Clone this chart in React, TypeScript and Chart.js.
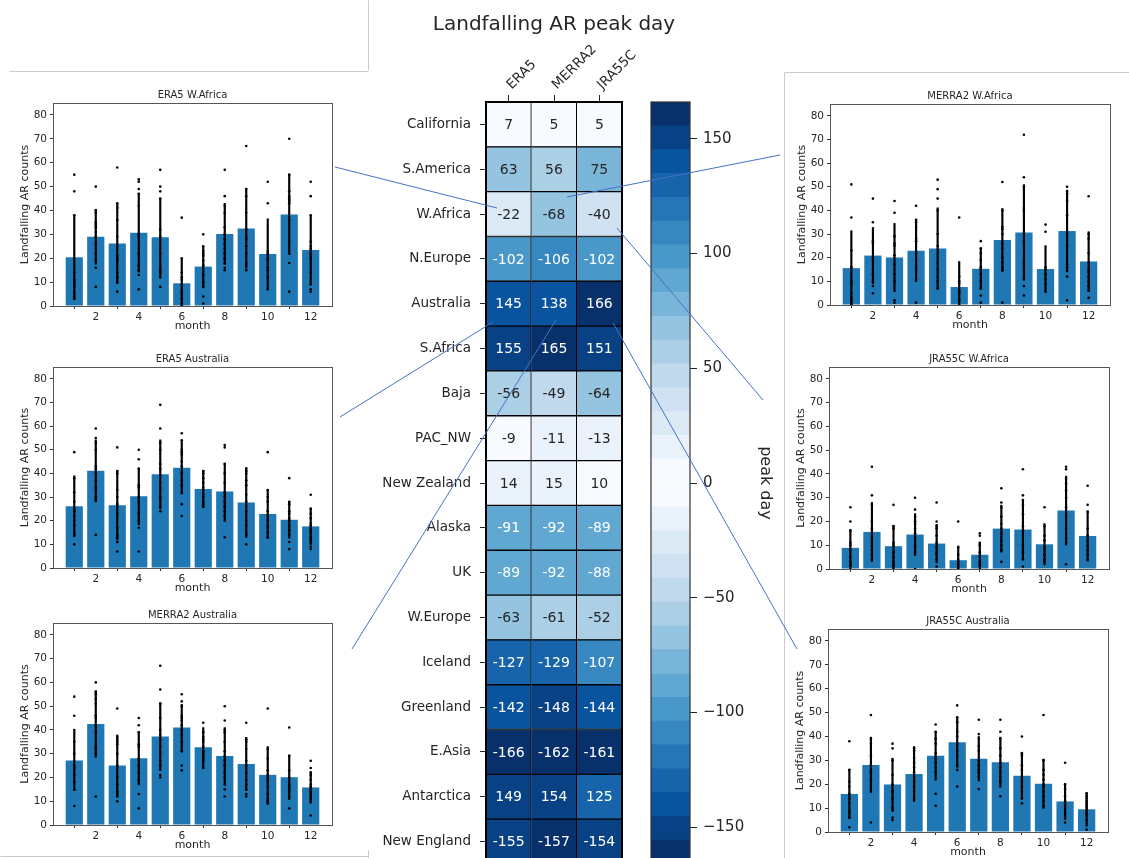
import React, { useEffect, useRef } from 'react';
import { Chart, registerables } from 'chart.js';

Chart.register(...registerables);

const FONT_FAMILY = "'DejaVu Sans', 'Liberation Sans', sans-serif";
const INK = '#262626';

// ---------- peak-day heatmap ----------
const regions = [
  'California', 'S.America', 'W.Africa', 'N.Europe', 'Australia', 'S.Africa', 'Baja', 'PAC_NW',
  'New Zealand', 'Alaska', 'UK', 'W.Europe', 'Iceland', 'Greenland', 'E.Asia', 'Antarctica', 'New England',
];
const products = ['ERA5', 'MERRA2', 'JRA55C'];
const peakDayERA5 = [7, 63, -22, -102, 145, 155, -56, -9, 14, -91, -89, -63, -127, -142, -166, 149, -155];
const peakDayMERRA2 = [5, 56, -68, -106, 138, 165, -49, -11, 15, -92, -92, -61, -129, -148, -162, 154, -157];
const peakDayJRA55C = [5, 75, -40, -102, 166, 151, -64, -13, 10, -89, -88, -52, -107, -144, -161, 125, -154];
const colorbarTicks = [-150, -100, -50, 0, 50, 100, 150];
const PEAK_LIMIT = 166;
const HALF_LEVELS = 16;

// ---------- monthly landfalling AR counts ----------
const months = [1, 2, 3, 4, 5, 6, 7, 8, 9, 10, 11, 12];
const monthTicks = [2, 4, 6, 8, 10, 12];
const countTicks = [0, 10, 20, 30, 40, 50, 60, 70, 80];

const era5WAfricaMean = [20.4, 29, 26.2, 30.7, 28.8, 9.5, 16.5, 30.2, 32.5, 21.8, 38.3, 23.5];
const era5WAfricaStd = [17.7, 11.5, 16.8, 16.5, 16.3, 10.3, 8.5, 12.8, 16.7, 14.7, 16.7, 14.5];
const era5WAfricaYears = [
  [55, 48, 38, 14, 11, 10, 9, 8, 6, 5, 4, 3],
  [50, 40, 39, 35, 34, 33, 31, 29, 26, 22, 19, 16, 8],
  [58, 43, 41, 36, 29, 21, 20, 19, 14, 12, 10, 6],
  [53, 52, 49, 47, 42, 30, 29, 22, 17, 15, 13, 7],
  [57, 50, 48, 45, 32, 29, 22, 16, 15, 14, 12, 8],
  [37, 20, 14, 12, 11, 9, 6, 5, 3, 1, 0],
  [30, 25, 23, 22, 21, 19, 17, 13, 10, 8, 4, 1],
  [57, 46, 42, 39, 33, 30, 28, 26, 24, 22, 20, 18, 16, 15],
  [67, 49, 46, 39, 32, 29, 28, 25, 22, 18, 17, 15],
  [52, 43, 23, 22, 20, 19, 16, 15, 12, 7],
  [70, 55, 48, 46, 45, 44, 43, 36, 27, 22, 18, 6],
  [52, 46, 38, 27, 25, 24, 22, 21, 20, 14, 9, 7, 6],
];

const era5AustraliaMean = [26.1, 41.1, 26.5, 30.3, 39.6, 42.4, 33.4, 32.3, 27.7, 22.8, 20.4, 17.6];
const era5AustraliaStd = [12.9, 13.1, 14.6, 12, 14.6, 11.1, 7.9, 12.1, 14.8, 10.3, 7.8, 7.8];
const era5AustraliaYears = [
  [49, 38, 32, 28, 25, 24, 22, 20, 18, 15, 14, 10],
  [59, 55, 53, 50, 43, 42, 40, 37, 34, 33, 30, 29, 14],
  [51, 41, 40, 33, 30, 27, 23, 17, 14, 13, 11, 7],
  [50, 46, 42, 35, 34, 30, 28, 23, 20, 17, 7],
  [69, 59, 53, 50, 44, 42, 39, 36, 33, 30, 29, 26, 24],
  [57, 54, 50, 49, 48, 45, 43, 40, 37, 35, 32, 27, 22],
  [41, 40, 38, 36, 34, 33, 31, 30, 28, 27, 26],
  [52, 51, 44, 40, 36, 32, 30, 28, 26, 24, 22, 20, 13],
  [42, 41, 40, 37, 35, 31, 28, 24, 20, 18, 15, 14, 10],
  [49, 33, 30, 28, 24, 22, 20, 18, 17, 15, 13],
  [38, 28, 27, 24, 23, 21, 20, 18, 16, 14, 11, 8],
  [31, 25, 23, 21, 19, 18, 17, 16, 15, 13, 12, 11, 9, 8],
];

const merra2AustraliaMean = [27.1, 42.5, 25, 28.1, 37.2, 41, 32.7, 29, 25.7, 21.1, 20.1, 15.8];
const merra2AustraliaStd = [12.6, 14, 12.9, 11.2, 14.3, 9.8, 8.3, 12, 11.2, 11.9, 9.4, 6.7];
const merra2AustraliaYears = [
  [54, 46, 40, 35, 30, 25, 24, 21, 18, 15, 8],
  [60, 56, 55, 53, 51, 46, 45, 42, 39, 33, 32, 30, 12],
  [49, 37, 36, 35, 34, 30, 25, 20, 17, 14, 13, 12, 10],
  [45, 42, 39, 34, 33, 28, 25, 22, 19, 13, 7],
  [67, 57, 51, 45, 40, 38, 36, 33, 30, 27, 25, 21, 20],
  [55, 52, 50, 46, 45, 44, 42, 40, 38, 35, 31, 25, 23],
  [43, 39, 37, 36, 35, 33, 31, 30, 29, 28, 27, 24],
  [50, 44, 40, 39, 35, 31, 29, 27, 25, 22, 20, 17, 15, 12],
  [43, 36, 35, 32, 27, 25, 22, 19, 17, 15, 13, 12],
  [49, 32, 28, 23, 21, 20, 19, 16, 13, 11, 10, 9],
  [41, 29, 23, 20, 19, 17, 16, 15, 14, 12, 7],
  [27, 24, 22, 21, 19, 17, 16, 15, 14, 13, 12, 11, 10, 4],
];

const merra2WAfricaMean = [15.6, 20.9, 20.1, 22.9, 23.9, 7.6, 15.3, 27.5, 30.7, 15.2, 31.3, 18.4];
const merra2WAfricaStd = [15.8, 11.9, 14.4, 13, 17.2, 10.8, 8.7, 13.3, 20.2, 9.9, 17.3, 12.6];
const merra2WAfricaYears = [
  [51, 37, 23, 16, 10, 9, 5, 3, 2, 1, 0],
  [45, 35, 27, 26, 20, 19, 15, 13, 10, 8, 5],
  [44, 39, 29, 26, 25, 21, 17, 13, 10, 2, 1],
  [42, 36, 35, 33, 28, 27, 22, 19, 16, 15, 11, 1],
  [53, 49, 45, 40, 30, 25, 18, 15, 12, 10, 7],
  [37, 12, 10, 9, 6, 5, 2, 0],
  [27, 24, 22, 19, 16, 15, 13, 10, 7, 4, 1],
  [52, 40, 33, 32, 30, 26, 24, 20, 18, 16, 15, 1],
  [72, 54, 50, 41, 40, 30, 27, 18, 15, 11, 8, 4],
  [34, 31, 16, 15, 13, 11, 9, 6],
  [50, 48, 47, 44, 38, 30, 25, 17, 16, 12, 2],
  [46, 30, 28, 22, 18, 15, 14, 12, 10, 8, 6, 3],
];

const jra55cWAfricaMean = [8.9, 15.6, 9.6, 14.5, 10.7, 3.7, 6, 17, 16.6, 10.4, 24.6, 13.9];
const jra55cWAfricaStd = [7.8, 12.4, 8.8, 8.8, 8.1, 6, 5, 9.9, 12.7, 8.7, 14.5, 10.6];
const jra55cWAfricaYears = [
  [26, 20, 16, 11, 10, 8, 5, 3, 2, 1, 0],
  [43, 31, 27, 20, 17, 14, 12, 10, 8, 6, 4],
  [27, 18, 17, 11, 10, 7, 5, 3, 2, 1, 0],
  [30, 25, 22, 20, 19, 17, 15, 13, 10, 9, 7, 0],
  [28, 20, 18, 17, 14, 11, 9, 7, 6, 4, 1],
  [20, 9, 6, 4, 3, 2, 1, 0],
  [15, 14, 11, 10, 7, 5, 3, 2, 1, 0],
  [34, 28, 26, 22, 19, 17, 15, 12, 10, 8, 3],
  [42, 31, 29, 27, 23, 18, 16, 14, 10, 7, 4, 1],
  [26, 18, 14, 12, 9, 8, 6, 4, 3],
  [43, 42, 38, 36, 33, 30, 26, 22, 17, 13, 11, 2],
  [35, 27, 24, 17, 14, 12, 10, 8, 6, 4],
];

const jra55cAustraliaMean = [15.9, 28.1, 19.9, 24.3, 31.9, 37.6, 30.7, 29.2, 23.6, 20.2, 12.8, 9.5];
const jra55cAustraliaStd = [10.3, 11.6, 11, 11.5, 10.2, 10.5, 9.3, 10.5, 9.8, 10.3, 7.6, 7.1];
const jra55cAustraliaYears = [
  [38, 26, 21, 19, 16, 14, 12, 9, 8, 6, 2],
  [49, 39, 37, 32, 28, 26, 25, 22, 21, 19, 4],
  [37, 35, 30, 24, 20, 17, 14, 10, 9, 6, 5],
  [35, 34, 31, 29, 27, 25, 23, 21, 19, 17, 14],
  [45, 42, 39, 37, 33, 31, 29, 27, 25, 16, 11],
  [53, 48, 46, 42, 40, 37, 34, 32, 28, 26, 19],
  [47, 41, 39, 36, 34, 30, 28, 26, 25, 23, 18],
  [47, 42, 39, 35, 32, 29, 27, 25, 23, 21, 15],
  [40, 33, 32, 28, 26, 23, 21, 19, 17, 14, 12],
  [49, 30, 26, 24, 22, 20, 19, 17, 15, 13, 11],
  [29, 20, 18, 15, 13, 12, 11, 10, 8, 6, 4],
  [16, 15, 14, 13, 12, 11, 10, 9, 8, 7, 5, 1],
];

// ---------- colours ----------
const BLUES = ['#f7fbff', '#deebf7', '#c6dbef', '#9ecae1', '#6baed6', '#4292c6', '#2171b5', '#08519c', '#08306b'];

function hexToRgb(h: string) {
  return [parseInt(h.slice(1, 3), 16), parseInt(h.slice(3, 5), 16), parseInt(h.slice(5, 7), 16)];
}

function blues(t: number) {
  const p = Math.max(0, Math.min(1, t)) * (BLUES.length - 1);
  const i = Math.min(BLUES.length - 2, Math.floor(p));
  const f = p - i;
  const a = hexToRgb(BLUES[i]);
  const b = hexToRgb(BLUES[i + 1]);
  const c = a.map((v, k) => Math.round(v + (b[k] - v) * f));
  return `rgb(${c[0]},${c[1]},${c[2]})`;
}

const LEVEL_STEP = PEAK_LIMIT / HALF_LEVELS;

function peakLevel(v: number) {
  return Math.min(HALF_LEVELS - 1, Math.floor(Math.abs(v) / LEVEL_STEP));
}

function peakColor(v: number) {
  return blues(peakLevel(v) / (HALF_LEVELS - 1));
}

const minus = (v: number) => (v < 0 ? '\u2212' + Math.abs(v) : String(v));

// ---------- panel placement (plot-area corners) ----------
const panels = [
  { title: 'ERA5 W.Africa', mean: era5WAfricaMean, std: era5WAfricaStd, years: era5WAfricaYears, box: [53, 103, 332, 306] },
  { title: 'ERA5 Australia', mean: era5AustraliaMean, std: era5AustraliaStd, years: era5AustraliaYears, box: [53, 367, 332, 568] },
  { title: 'MERRA2 Australia', mean: merra2AustraliaMean, std: merra2AustraliaStd, years: merra2AustraliaYears, box: [53, 623, 332, 825] },
  { title: 'MERRA2 W.Africa', mean: merra2WAfricaMean, std: merra2WAfricaStd, years: merra2WAfricaYears, box: [830, 104, 1110, 305] },
  { title: 'JRA55C W.Africa', mean: jra55cWAfricaMean, std: jra55cWAfricaStd, years: jra55cWAfricaYears, box: [829, 367, 1109, 569] },
  { title: 'JRA55C Australia', mean: jra55cAustraliaMean, std: jra55cAustraliaStd, years: jra55cAustraliaYears, box: [828, 629, 1108, 832] },
];

const connectors = [
  [335, 167, 497, 208],
  [780, 155, 567, 197],
  [617, 228, 763, 400],
  [340, 417, 493, 322],
  [352, 649, 556, 320],
  [613, 323, 797, 649],
];

const frameLines = [
  [368, 0, 368, 70],
  [9, 71, 368, 71],
  [784, 72, 1129, 72],
  [784, 72, 784, 858],
  [0, 856, 368, 856],
  [368, 850, 368, 858],
];

Chart.defaults.font.family = FONT_FAMILY;
Chart.defaults.color = INK;

// keep a vertical axis from pushing the plot area inward with its label overhang
const noOverhang = (s: any) => {
  s.paddingTop = 0;
  s.paddingBottom = 0;
};

function PanelChart({ title, mean, std, years, box }: any) {
  const ref = useRef<HTMLCanvasElement>(null);
  const [x0, y0, x1, y1] = box;
  const left = x0 - 53;
  const top = y0 - 23;
  const width = x1 - x0 + 66;
  const height = y1 - y0 + 53;

  useEffect(() => {
    const dots: { x: number; y: number }[] = [];
    months.forEach((m, i) => years[i].forEach((v: number) => dots.push({ x: m, y: v })));

    const framePlugin = {
      id: 'panelFrame',
      afterDraw(chart: any) {
        const { ctx, chartArea: a } = chart;
        ctx.save();
        ctx.strokeStyle = '#555';
        ctx.lineWidth = 1;
        ctx.strokeRect(Math.round(a.left) + 0.5, Math.round(a.top) + 0.5, Math.round(a.right - a.left), Math.round(a.bottom - a.top));
        ctx.fillStyle = INK;
        ctx.font = `10px ${FONT_FAMILY}`;
        ctx.textAlign = 'center';
        ctx.textBaseline = 'alphabetic';
        ctx.fillText(title, (a.left + a.right) / 2, a.top - 5);
        ctx.restore();
      },
    };

    const chart = new Chart(ref.current!, {
      type: 'bar',
      data: {
        datasets: [
          {
            type: 'scatter',
            data: dots,
            backgroundColor: '#000',
            borderColor: '#000',
            borderWidth: 0,
            pointRadius: 1.3,
            order: 1,
          } as any,
          {
            type: 'bar',
            data: months.map((m, i) => ({ x: m, y: [mean[i] - std[i], mean[i] + std[i]] })),
            backgroundColor: '#000',
            barThickness: 1.5,
            grouped: false,
            order: 2,
          } as any,
          {
            type: 'bar',
            data: months.map((m, i) => ({ x: m, y: mean[i] })),
            backgroundColor: '#1f77b4',
            barPercentage: 0.8,
            categoryPercentage: 1,
            grouped: false,
            order: 3,
          } as any,
        ],
      },
      options: {
        animation: false,
        responsive: false,
        events: [],
        layout: { padding: { top: 23, right: 13, left: 0, bottom: 0 } },
        plugins: { legend: { display: false }, tooltip: { enabled: false } },
        scales: {
          x: {
            type: 'linear',
            min: 0.01,
            max: 12.99,
            offset: false,
            afterBuildTicks: (s: any) => {
              s.ticks = monthTicks.map((value) => ({ value }));
            },
            afterFit: (s: any) => {
              s.height = 30;
            },
            grid: { drawOnChartArea: false, tickLength: 3, color: '#333' },
            border: { display: false },
            ticks: { autoSkip: false, maxRotation: 0, font: { size: 10.5 }, color: INK, padding: 2 },
            title: { display: true, text: 'month', font: { size: 11 }, color: INK, padding: { top: 0, bottom: 3 } },
          },
          y: {
            min: 0,
            max: 85,
            afterBuildTicks: (s: any) => {
              s.ticks = countTicks.map((value) => ({ value }));
            },
            afterFit: (s: any) => {
              s.width = 53;
              noOverhang(s);
            },
            grid: { drawOnChartArea: false, tickLength: 3, color: '#333' },
            border: { display: false },
            ticks: { autoSkip: false, font: { size: 10.5 }, color: INK, padding: 3 },
            title: { display: true, text: 'Landfalling AR counts', font: { size: 11 }, color: INK, padding: { top: 19, bottom: 0 } },
          },
        },
      } as any,
      plugins: [framePlugin],
    });
    return () => chart.destroy();
  }, []);

  return (
    <div style={{ position: 'absolute', left, top, width, height }}>
      <canvas ref={ref} width={width} height={height} style={{ display: 'block', width, height }} />
    </div>
  );
}

function Heatmap() {
  const ref = useRef<HTMLCanvasElement>(null);
  const left = 340;
  const width = 460;
  const height = 870;

  useEffect(() => {
    const series = [peakDayERA5, peakDayMERRA2, peakDayJRA55C];

    const cellPlugin = {
      id: 'cellText',
      afterDatasetsDraw(chart: any) {
        const { ctx, chartArea: a } = chart;
        ctx.save();
        ctx.font = `14px ${FONT_FAMILY}`;
        ctx.textAlign = 'center';
        ctx.textBaseline = 'middle';
        chart.data.datasets.forEach((ds: any, i: number) => {
          chart.getDatasetMeta(i).data.forEach((el: any, j: number) => {
            const v = ds.peak[j];
            const { x, y } = el.getCenterPoint();
            ctx.fillStyle = peakLevel(v) >= 8 ? '#ffffff' : INK;
            ctx.fillText(String(v), x, y + 1);
          });
        });
        ctx.strokeStyle = '#000';
        ctx.lineWidth = 2;
        ctx.strokeRect(a.left, a.top, a.right - a.left, a.bottom - a.top);
        ctx.fillStyle = INK;
        ctx.font = `20px ${FONT_FAMILY}`;
        ctx.textBaseline = 'middle';
        ctx.fillText('Landfalling AR peak day', 554 - left, 25);
        ctx.restore();
      },
    };

    const chart = new Chart(ref.current!, {
      type: 'bar',
      data: {
        labels: regions,
        datasets: series.map((vals, i) => ({
          label: products[i],
          data: vals.map(() => 1),
          peak: vals,
          backgroundColor: vals.map(peakColor),
          borderColor: '#000',
          borderWidth: 1,
          barPercentage: 1,
          categoryPercentage: 1,
        })) as any,
      },
      options: {
        indexAxis: 'y',
        animation: false,
        responsive: false,
        events: [],
        layout: { padding: { top: 0, right: 178, bottom: 6, left: 0 } },
        plugins: { legend: { display: false }, tooltip: { enabled: false } },
        scales: {
          x: {
            type: 'linear',
            position: 'top',
            stacked: true,
            min: 0,
            max: 3,
            afterBuildTicks: (s: any) => {
              s.ticks = products.map((_, i) => ({ value: i + 0.5 }));
            },
            afterFit: (s: any) => {
              s.height = 102;
            },
            grid: { drawOnChartArea: false, tickLength: 7, color: INK },
            border: { display: false },
            ticks: {
              autoSkip: false,
              minRotation: 45,
              maxRotation: 45,
              font: { size: 13.5 },
              color: INK,
              padding: 2,
              labelOffset: 12,
              callback: (_v: any, i: number) => products[i],
            },
          },
          y: {
            stacked: true,
            afterFit: (s: any) => {
              s.width = 146;
              noOverhang(s);
            },
            grid: { drawOnChartArea: false, tickLength: 6, color: INK, offset: false },
            border: { display: false },
            ticks: { autoSkip: false, font: { size: 13.5 }, color: INK, padding: 9 },
          },
        },
      } as any,
      plugins: [cellPlugin],
    });
    return () => chart.destroy();
  }, []);

  return (
    <div style={{ position: 'absolute', left, top: 0, width, height }}>
      <canvas ref={ref} width={width} height={height} style={{ display: 'block', width, height }} />
    </div>
  );
}

function Colorbar() {
  const ref = useRef<HTMLCanvasElement>(null);
  const left = 640;
  const width = 150;
  const height = 870;

  useEffect(() => {
    const bounds: number[] = [];
    for (let k = -HALF_LEVELS; k <= HALF_LEVELS; k++) bounds.push(k * LEVEL_STEP);
    const segments = bounds.slice(0, -1).map((lo, k) => [lo, bounds[k + 1]]);

    const outlinePlugin = {
      id: 'cbarOutline',
      afterDraw(chart: any) {
        const { ctx, chartArea: a } = chart;
        ctx.save();
        ctx.strokeStyle = '#333';
        ctx.lineWidth = 1.2;
        ctx.strokeRect(a.left, a.top, a.right - a.left, a.bottom - a.top);
        ctx.translate(765 - left, 483);
        ctx.rotate(Math.PI / 2);
        ctx.fillStyle = INK;
        ctx.font = `16px ${FONT_FAMILY}`;
        ctx.textAlign = 'center';
        ctx.textBaseline = 'middle';
        ctx.fillText('peak day', 0, 0);
        ctx.restore();
      },
    };

    const chart = new Chart(ref.current!, {
      type: 'bar',
      data: {
        labels: [''],
        datasets: segments.map((seg) => ({
          data: [seg],
          backgroundColor: peakColor((seg[0] + seg[1]) / 2),
          borderWidth: 0,
          barPercentage: 1,
          categoryPercentage: 1,
          grouped: false,
        })) as any,
      },
      options: {
        animation: false,
        responsive: false,
        events: [],
        layout: { padding: { top: 102, right: 0, bottom: 6, left: 11 } },
        plugins: { legend: { display: false }, tooltip: { enabled: false } },
        scales: {
          x: { display: false },
          y: {
            position: 'right',
            min: -PEAK_LIMIT,
            max: PEAK_LIMIT,
            afterBuildTicks: (s: any) => {
              s.ticks = colorbarTicks.map((value) => ({ value }));
            },
            afterFit: (s: any) => {
              s.width = 100;
              noOverhang(s);
            },
            grid: { drawOnChartArea: false, tickLength: 7, color: INK },
            border: { display: false },
            ticks: { autoSkip: false, font: { size: 15 }, color: INK, padding: 6, callback: (v: any) => minus(Number(v)) },
          },
        },
      } as any,
      plugins: [outlinePlugin],
    });
    return () => chart.destroy();
  }, []);

  return (
    <div style={{ position: 'absolute', left, top: 0, width, height }}>
      <canvas ref={ref} width={width} height={height} style={{ display: 'block', width, height }} />
    </div>
  );
}

export default function App() {
  return (
    <div
      style={{
        position: 'absolute',
        left: 0,
        top: 0,
        width: 1129,
        height: 858,
        overflow: 'hidden',
        background: '#fff',
      }}
    >
      <svg width={1129} height={858} style={{ position: 'absolute', left: 0, top: 0 }}>
        {frameLines.map(([xa, ya, xb, yb], i) => (
          <line key={i} x1={xa + 0.5} y1={ya + 0.5} x2={xb + 0.5} y2={yb + 0.5} stroke="#cccccc" strokeWidth={1} />
        ))}
      </svg>
      {panels.map((p) => (
        <PanelChart key={p.title} {...p} />
      ))}
      <Heatmap />
      <Colorbar />
      <svg width={1129} height={858} style={{ position: 'absolute', left: 0, top: 0, pointerEvents: 'none' }}>
        {connectors.map(([xa, ya, xb, yb], i) => (
          <line key={i} x1={xa} y1={ya} x2={xb} y2={yb} stroke="#4472c4" strokeWidth={1} />
        ))}
      </svg>
    </div>
  );
}
